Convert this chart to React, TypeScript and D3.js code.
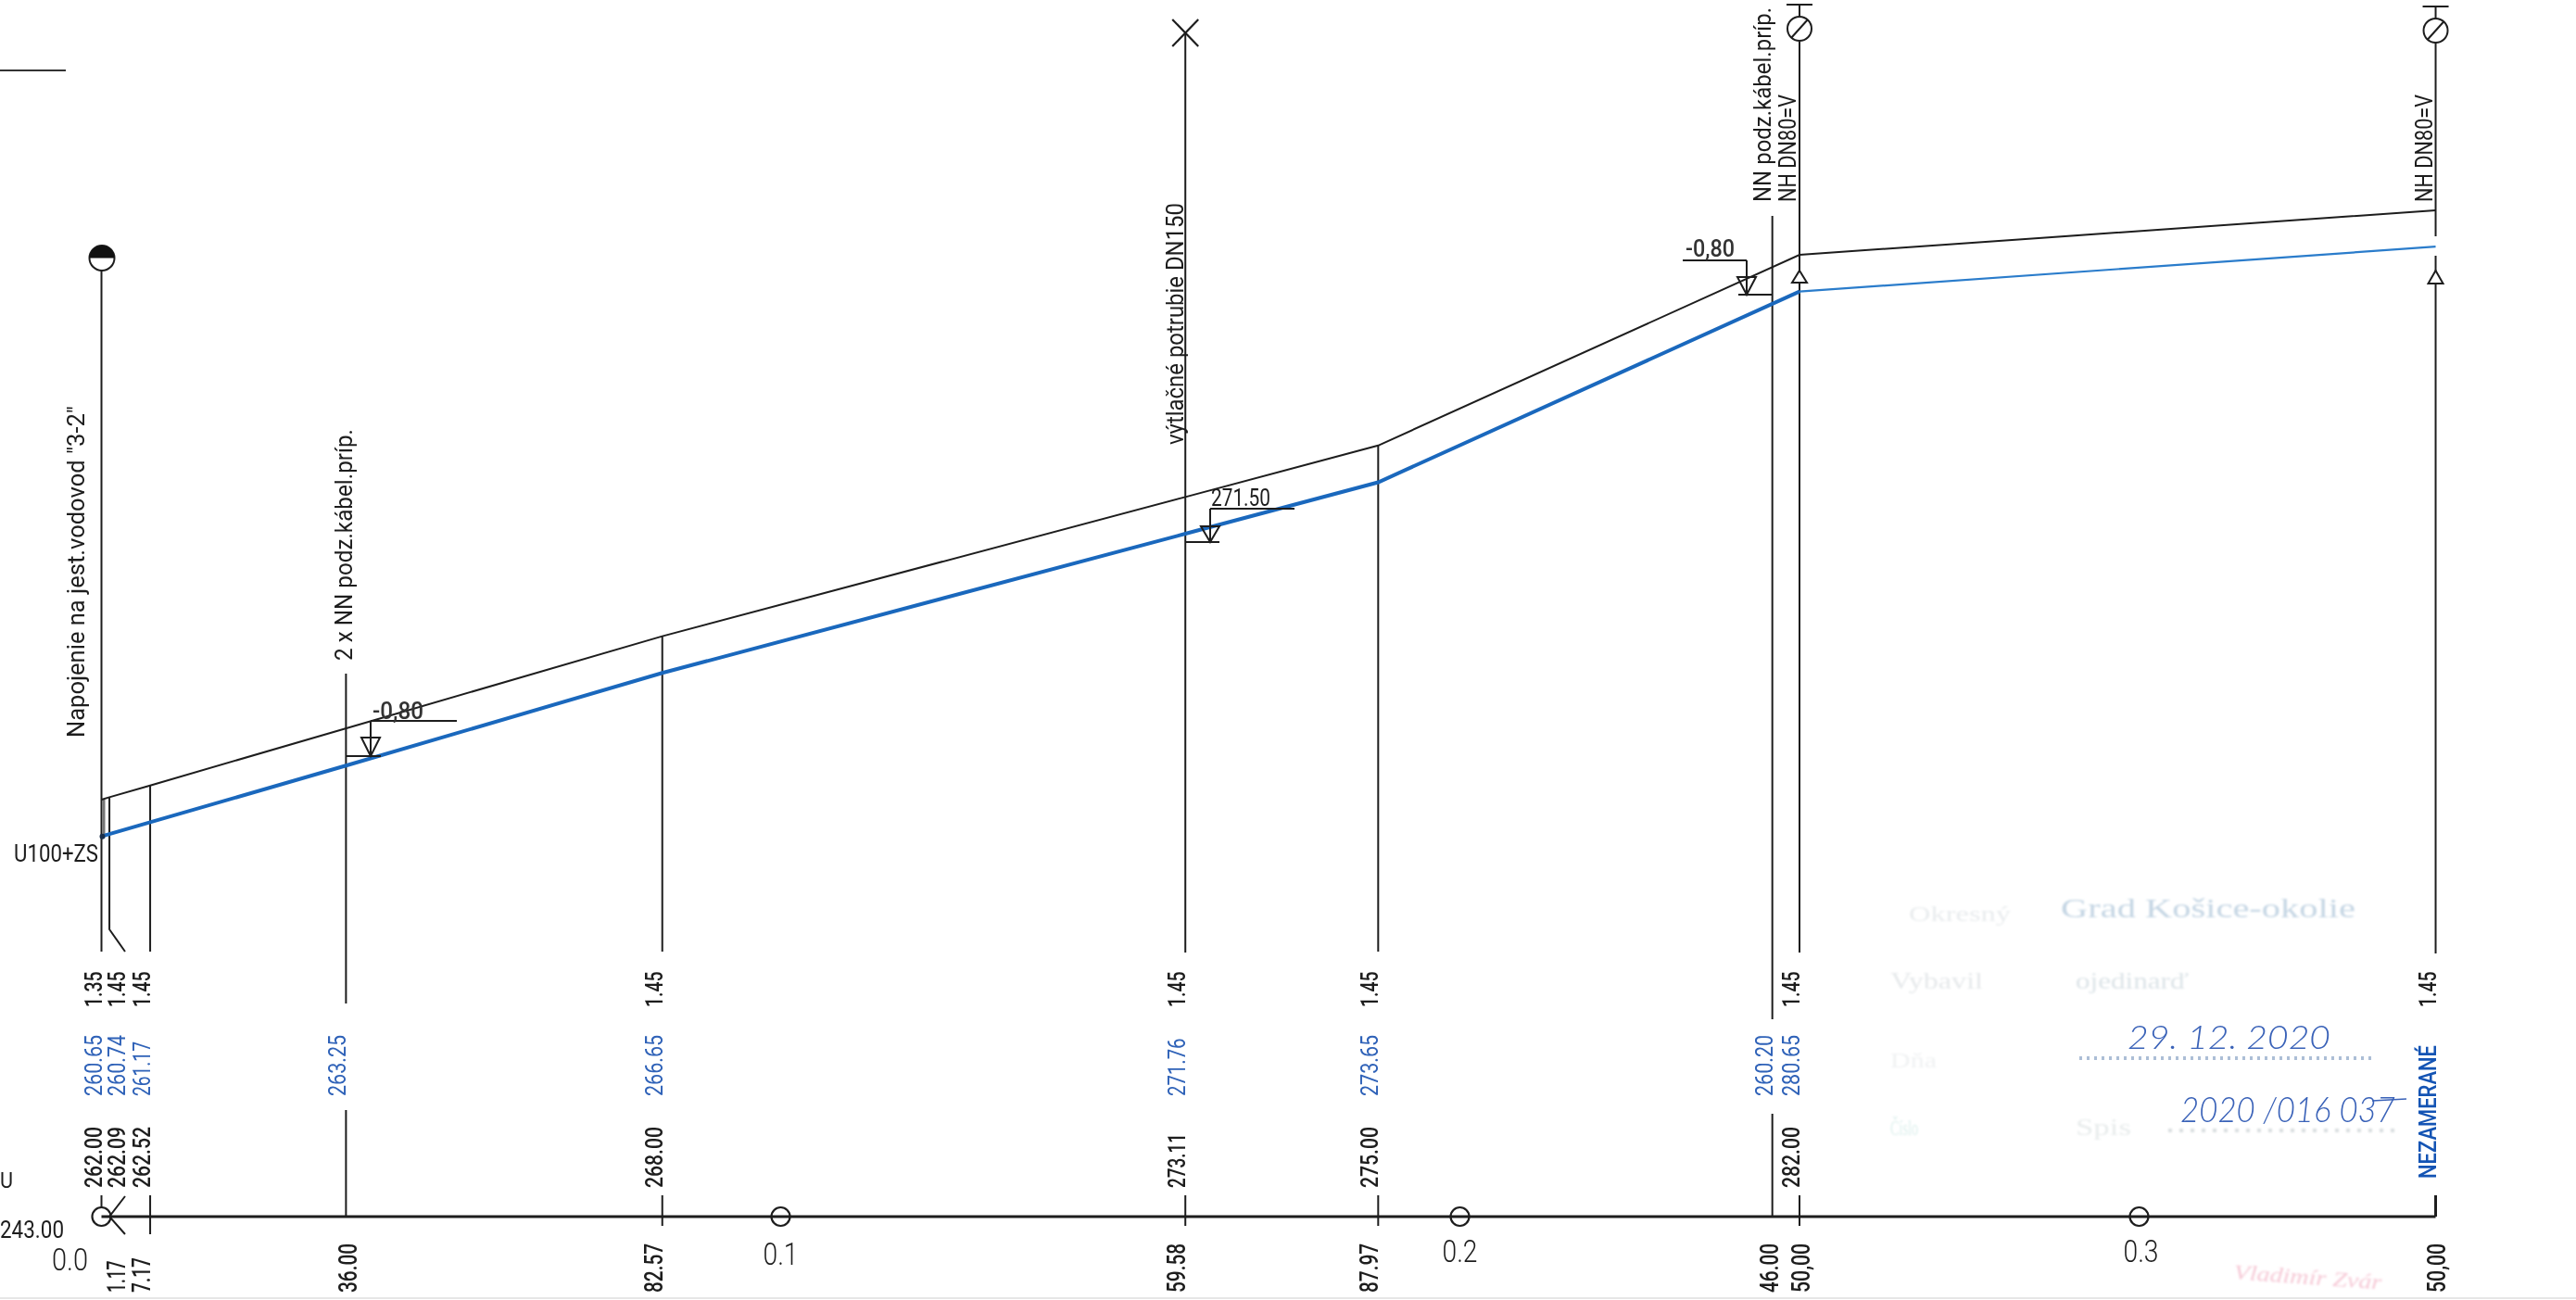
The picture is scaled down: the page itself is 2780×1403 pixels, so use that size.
import React from "react";
import * as d3 from "d3";

// ---- data read from the longitudinal profile ----
const terrainStations = [0, 1.17, 7.17, 82.57, 159.58, 187.97, 250, 343.66];
const terrainLevels = [262.0, 262.09, 262.52, 268.0, 273.11, 275.0, 282.0, 283.63];
const pipeStations = [0, 1.17, 7.17, 36, 82.57, 159.58, 187.97, 250];
const pipeLevels = [260.65, 260.74, 261.17, 263.25, 266.65, 271.76, 273.65, 280.65];
const pipeEndStations = [250, 343.66];
const pipeEndLevels = [280.65, 282.3];
const kmTicks = [0.1, 0.2, 0.3];
const kmLabels = ["0.1", "0.2", "0.3"];

const coverStations = [0, 3.5, 7.17, 82.57, 159.58, 187.97, 250, 343.66];
const coverLabels = ["1.35", "1.45", "1.45", "1.45", "1.45", "1.45", "1.45", "1.45"];
const pipeRowStations = [0, 3.5, 7.17, 36, 82.57, 159.58, 187.97, 246, 250];
const pipeRowLabels = ["260.65", "260.74", "261.17", "263.25", "266.65", "271.76", "273.65", "260.20", "280.65"];
const groundRowStations = [0, 3.5, 7.17, 82.57, 159.58, 187.97, 250];
const groundRowLabels = ["262.00", "262.09", "262.52", "268.00", "273.11", "275.00", "282.00"];
const stationRowStations = [3.5, 7.17, 37.6, 82.57, 159.58, 187.97, 246.8, 251.5, 345.1];
const stationRowLabels = ["1.17", "7.17", "36.00", "82.57", "59.58", "87.97", "46.00", "50,00", "50,00"];

const tickStations = [82.57, 159.58, 187.97, 250];
const longDropStations = [7.17, 82.57, 187.97];

const W = 2780;
const H = 1403;
const x = d3.scaleLinear().domain([0, 300]).range([109.5, 2308.5]);
const y = d3.scaleLinear().domain([262, 282]).range([863, 275]);
const line = d3.line<[number, number]>().x((d) => x(d[0])).y((d) => y(d[1]));
const zip = (a: number[], b: number[]) => a.map((v, i) => [v, b[i]] as [number, number]);

const FONT = "Roboto, 'Liberation Sans', sans-serif";
const SERIF = "'Liberation Serif', serif";
const INK = "#1d1d1d";
const BLUE_TEXT = "#2f62b8";
const BLUE_PIPE = "#1a68bd";
const AXIS_Y = 1313;

const unitLen = (s: string) =>
  [...s].reduce((a, c) => a + (c === "." || c === "," ? 0.55 : c === "1" ? 0.7 : 1), 0);

function VText(props: {
  px: number; bottom: number; text: string; len: number; size: number; fill?: string; weight?: number;
}) {
  const { px, bottom, text, len, size, fill = INK, weight = 400 } = props;
  return (
    <text
      transform={`translate(${px},${bottom}) rotate(-90)`}
      fontFamily={FONT}
      fontSize={size}
      fontWeight={weight}
      fill={fill}
      textLength={len}
      lengthAdjust="spacingAndGlyphs"
    >
      {text}
    </text>
  );
}

function HText(props: {
  px: number; py: number; text: string; len?: number; size: number; fill?: string; anchor?: string; weight?: number; opacity?: number; family?: string; style?: string; transform?: string;
}) {
  const { px, py, text, len, size, fill = INK, anchor = "start", weight = 400, opacity = 1, family = FONT, style = "normal", transform } = props;
  return (
    <text
      x={px}
      y={py}
      fontFamily={family}
      fontSize={size}
      fontWeight={weight}
      fontStyle={style}
      fill={fill}
      textAnchor={anchor}
      opacity={opacity}
      transform={transform}
      {...(len ? { textLength: len, lengthAdjust: "spacingAndGlyphs" } : {})}
    >
      {text}
    </text>
  );
}

function V({ s, y1, y2, w = 2 }: { s: number; y1: number; y2: number; w?: number }) {
  return <line x1={x(s)} x2={x(s)} y1={y1} y2={y2} stroke={INK} strokeWidth={w} />;
}

function Hydrant({ s, top }: { s: number; top: number }) {
  const cx = x(s);
  return (
    <g fill="none" stroke={INK} strokeWidth={2}>
      <line x1={cx - 14} x2={cx + 14} y1={top} y2={top} />
      <line x1={cx} x2={cx} y1={top} y2={top + 13} />
      <ellipse cx={cx} cy={top + 26} rx={13} ry={13} />
      <line x1={cx - 9} x2={cx + 9} y1={top + 36} y2={top + 16} />
    </g>
  );
}

function Tri({ s, y1, y2 }: { s: number; y1: number; y2: number }) {
  const cx = x(s);
  return <path d={`M${cx},${y1}L${cx + 8},${y2}L${cx - 8},${y2}Z`} fill="#fff" stroke={INK} strokeWidth={2} />;
}

function LevelMark(props: { tx: number; lineY: number; x1: number; x2: number; triTop: number; apex: number; baseX1: number; baseX2: number }) {
  const { tx, lineY, x1, x2, triTop, apex, baseX1, baseX2 } = props;
  return (
    <g fill="none" stroke={INK} strokeWidth={2}>
      <line x1={x1} x2={x2} y1={lineY} y2={lineY} />
      <line x1={tx} x2={tx} y1={lineY} y2={apex} />
      <path d={`M${tx - 10},${triTop}L${tx + 10},${triTop}L${tx},${apex}Z`} />
      <line x1={baseX1} x2={baseX2} y1={apex} y2={apex} />
    </g>
  );
}

export default function App() {
  const bubble = d3.arc()({ innerRadius: 0, outerRadius: 13.5, startAngle: -Math.PI / 2, endAngle: Math.PI / 2 }) as string;
  return (
    <svg
      width={W}
      height={H}
      viewBox={`0 0 ${W} ${H}`}
      style={{ position: "fixed", left: 0, top: 0, display: "block", background: "#fff" }}
    >
      <defs>
        <filter id="scan" x="-5%" y="-30%" width="110%" height="160%">
          <feGaussianBlur stdDeviation="1.1" />
        </filter>
      </defs>
      <rect width={W} height={H} fill="#fff" />

      {/* faint scanned stamps */}
      <g filter="url(#scan)">
        <HText px={2224} py={990} text="Grad Košice-okolie" len={318} size={30} fill="#c5d6e4" family={SERIF} />
        <HText px={2060} py={994} text="Okresný" len={110} size={24} fill="#e9ecee" family={SERIF} />
        <HText px={2040} py={1067} text="Vybavil" len={100} size={26} fill="#e6e9eb" family={SERIF} />
        <HText px={2240} py={1067} text="ojedinarď" len={122} size={26} fill="#dde4e8" family={SERIF} />
        <HText px={2040} py={1152} text="Dňa" len={50} size={24} fill="#f0f2f3" family={SERIF} />
        <HText px={2040} py={1225} text="Číslo" len={30} size={24} fill="#dcefec" family={SERIF} />
        <HText px={2240} py={1225} text="Spis" len={60} size={26} fill="#e8ecec" family={SERIF} />
        <line x1={2340} x2={2585} y1={1220} y2={1220} stroke="#c0c8cc" strokeWidth={4} strokeDasharray="4 8" opacity={0.6} />
        <HText px={2410} py={1386} text="Vladimír Zvár" len={160} size={24} fill="#f6c9d6" family={SERIF} style="italic" transform="rotate(4 2490 1386)" />
      </g>
      <line x1={2244} x2={2562} y1={1142} y2={1142} stroke="#90a8c8" strokeWidth={4} strokeDasharray="3 5" opacity={0.75} />
      <line x1={0} x2={W} y1={1401} y2={1401} stroke="#e6e6e6" strokeWidth={2} />

      {/* top-left stray line */}
      <line x1={0} x2={71} y1={76} y2={76} stroke="#333" strokeWidth={2} />

      {/* verticals */}
      <V s={0} y1={291} y2={1027} />
      <path d={`M${x(1.17)},${y(262.09)}V1003L135,1027`} fill="none" stroke={INK} strokeWidth={2} />
      {longDropStations.map((s, i) => (
        <V key={i} s={s} y1={y(terrainLevels[terrainStations.indexOf(s)])} y2={1027} />
      ))}
      <V s={36} y1={727} y2={1083} />
      <V s={36} y1={1198} y2={AXIS_Y} />
      <V s={159.58} y1={35} y2={1028} />
      <V s={246} y1={233} y2={1100} />
      <V s={246} y1={1202} y2={AXIS_Y} />
      <V s={250} y1={45} y2={1028} />
      <V s={343.66} y1={46} y2={255} />
      <V s={343.66} y1={276} y2={1029} />
      <rect x={x(0) + 1} y={y(262)} width={3} height={40} fill="#777" />

      {/* head symbols */}
      <g transform={`translate(${x(0) + 0.5},278.5)`}>
        <circle r={13.5} fill="#fff" stroke={INK} strokeWidth={2} />
        <path d={bubble} fill="#111" />
      </g>
      <g stroke={INK} strokeWidth={2.2}>
        <line x1={x(159.58) - 14} x2={x(159.58) + 14} y1={21} y2={50} />
        <line x1={x(159.58) - 14} x2={x(159.58) + 14} y1={50} y2={21} />
      </g>
      <Hydrant s={250} top={5} />
      <Hydrant s={343.66} top={7} />
      <Tri s={250} y1={292} y2={305} />
      <Tri s={343.66} y1={292} y2={306} />

      {/* terrain and pipe */}
      <path d={line(zip(terrainStations, terrainLevels)) as string} fill="none" stroke={INK} strokeWidth={2} />
      <path d={line(zip(pipeStations, pipeLevels)) as string} fill="none" stroke={BLUE_PIPE} strokeWidth={4} />
      <path d={line(zip(pipeEndStations, pipeEndLevels)) as string} fill="none" stroke="#2a7ccb" strokeWidth={2.2} />
      <circle cx={x(0) + 1} cy={y(260.65)} r={3} fill="#1b2f4a" />

      {/* level markers */}
      <LevelMark tx={400} lineY={778} x1={400} x2={493} triTop={796} apex={816} baseX1={373} baseX2={411} />
      <LevelMark tx={1306} lineY={549} x1={1306} x2={1397} triTop={568} apex={585} baseX1={1279} baseX2={1316} />
      <LevelMark tx={1885} lineY={281} x1={1816} x2={1885} triTop={299} apex={318} baseX1={1876} baseX2={1913} />
      <HText px={402} py={776} text="-0,80" len={55} size={25} fill="#333" weight={500} />
      <HText px={1307} py={546} text="271.50" len={64} size={25} />
      <HText px={1819} py={277} text="-0,80" len={53} size={25} fill="#333" weight={500} />

      {/* vertical notes */}
      <VText px={90.5} bottom={796} text={'Napojenie na jest.vodovod "3-2"'} len={358} size={25} />
      <VText px={380} bottom={713} text="2 x NN podz.kábel.príp." len={250} size={25} />
      <VText px={1277} bottom={480} text="výtlačné potrubie DN150" len={261} size={25} />
      <VText px={1911} bottom={218} text="NN podz.kábel.príp." len={210} size={25} />
      <VText px={1938} bottom={218} text="NH DN80=V" len={116} size={25} />
      <VText px={2625} bottom={218} text="NH DN80=V" len={116} size={25} />
      <HText px={15} py={930} text="U100+ZS" len={91} size={25} />

      {/* tables of values */}
      {coverLabels.map((t, i) => (
        <VText key={i} px={x(coverStations[i])} bottom={1087} text={t} len={unitLen(t) * 11.9} size={25} weight={500} />
      ))}
      {pipeRowLabels.map((t, i) => (
        <VText key={i} px={x(pipeRowStations[i])} bottom={1183} text={t} len={unitLen(t) * 11.9} size={25} fill={BLUE_TEXT} />
      ))}
      <VText px={x(343.66)} bottom={1272} text="NEZAMERANÉ" len={144} size={25} fill="#1454b4" weight={500} />
      {groundRowLabels.map((t, i) => (
        <VText key={i} px={x(groundRowStations[i])} bottom={1282} text={t} len={unitLen(t) * 11.9} size={25} weight={500} />
      ))}
      {stationRowLabels.map((t, i) => (
        <VText key={i} px={x(stationRowStations[i])} bottom={1395} text={t} len={unitLen(t) * 11.7} size={27} weight={500} />
      ))}

      {/* stationing axis */}
      <line x1={x(0)} x2={x(343.66)} y1={AXIS_Y} y2={AXIS_Y} stroke={INK} strokeWidth={3} />
      {tickStations.map((s) => (
        <V key={s} s={s} y1={1290} y2={1323} />
      ))}
      <V s={7.17} y1={1290} y2={1332} />
      <V s={0} y1={1290} y2={1303} />
      <V s={343.66} y1={1290} y2={AXIS_Y} w={3} />
      <path d={`M135,1291L${x(1.17)},${AXIS_Y}L135,1332`} fill="none" stroke={INK} strokeWidth={2} />
      <ellipse cx={x(0)} cy={AXIS_Y} rx={10} ry={10} fill="none" stroke={INK} strokeWidth={2.2} />
      {kmTicks.map((k, i) => (
        <g key={k}>
          <circle cx={x(k * 1000)} cy={AXIS_Y} r={10} fill="none" stroke={INK} strokeWidth={2.2} />
          <HText px={x(k * 1000) + (i === 2 ? 2 : 0)} py={i === 0 ? 1365 : 1362} text={kmLabels[i]} len={38} size={34} anchor="middle" weight={300} />
        </g>
      ))}
      <HText px={56} py={1371} text="0.0" len={39} size={34} weight={300} />
      <HText px={0} py={1336} text="243.00" len={69} size={25} />
      <HText px={0} py={1282} text="U" len={14} size={24} />

      {/* handwritten notes */}
      <HText px={2296} py={1132} text="29. 12. 2020" len={219} size={36} fill="#3a62b8" family="'Lato', sans-serif" style="italic" weight={300} />
      <HText px={2353} py={1211} text="2020 /016 037" len={232} size={38} fill="#3a62b8" family="'Lato', sans-serif" style="italic" weight={300} />
      <line x1={2560} x2={2597} y1={1188} y2={1186} stroke="#3a62b8" strokeWidth={1.5} />
    </svg>
  );
}
